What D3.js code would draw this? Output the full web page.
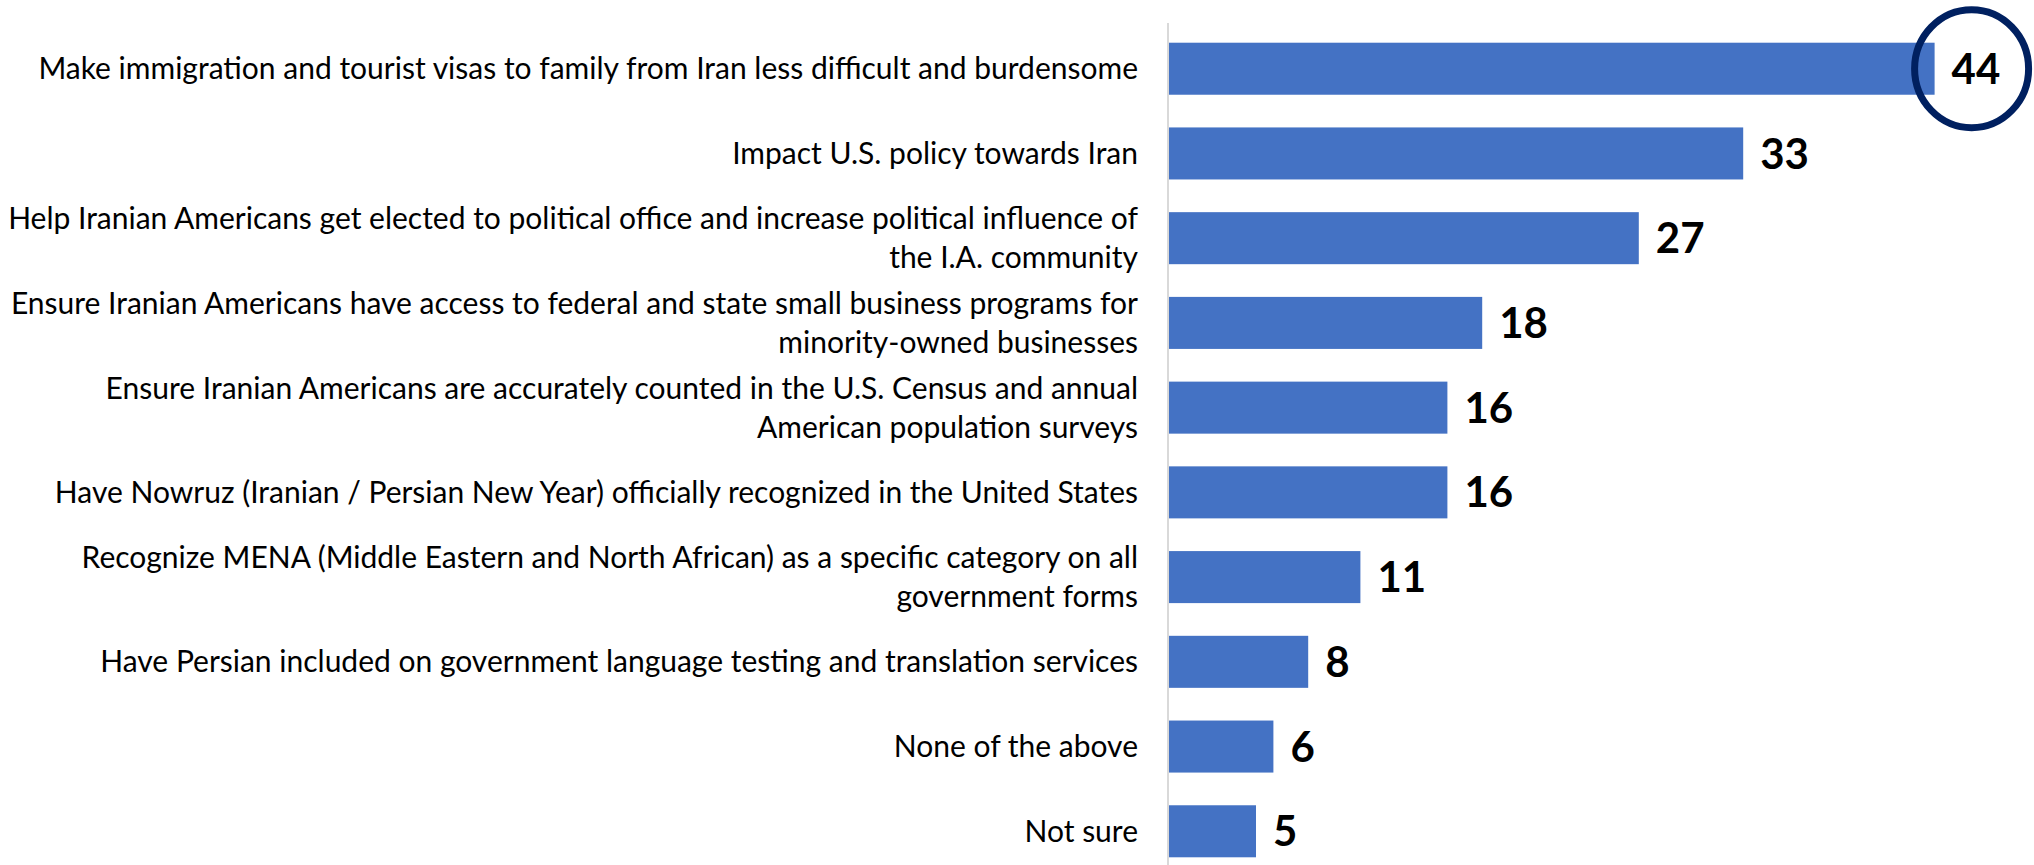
<!DOCTYPE html>
<html>
<head>
<meta charset="utf-8">
<script src="https://cdn.jsdelivr.net/npm/d3@7"></script>
<style>
    body { margin: 0; background: #ffffff; }
    svg { display: block; }
</style>
</head>
<body>
<svg id="chart" width="2034" height="865"></svg>
<script>
// survey items, top to bottom (line breaks as in the original)
var categories = [
    "Make immigration and tourist visas to family from Iran less difficult and burdensome",
    "Impact U.S. policy towards Iran",
    "Help Iranian Americans get elected to political office and increase political influence of\nthe I.A. community",
    "Ensure Iranian Americans have access to federal and state small business programs for\nminority-owned businesses",
    "Ensure Iranian Americans are accurately counted in the U.S. Census and annual\nAmerican population surveys",
    "Have Nowruz (Iranian / Persian New Year) officially recognized in the United States",
    "Recognize MENA (Middle Eastern and North African) as a specific category on all\ngovernment forms",
    "Have Persian included on government language testing and translation services",
    "None of the above",
    "Not sure"
];

var values = [44, 33, 27, 18, 16, 16, 11, 8, 6, 5];

// which bar gets the hand-drawn ring
var highlighted = [0];

var chartSVG = d3.select("#chart"),
    width = +chartSVG.attr("width"),
    height = +chartSVG.attr("height");

var data = categories.map(function(c, i) {
    return { label: c, value: values[i], idx: i };
});

var x = d3.scaleLinear()
    .domain([0, 50])
    .range([1169, 1169 + 870]);

var y = d3.scaleBand()
    .domain(data.map(function(d) { return d.idx; }))
    .range([10, 890])
    .paddingInner(0.386)
    .paddingOuter(0.386);

var barColor = "#4472c4";
var labelFont = "Lato, 'Open Sans', sans-serif";

// bars
chartSVG.append("g")
    .attr("class", "bars")
    .selectAll("rect")
    .data(data)
    .enter().append("rect")
    .attr("x", x(0))
    .attr("y", function(d) { return y(d.idx); })
    .attr("width", function(d) { return x(d.value) - x(0); })
    .attr("height", y.bandwidth())
    .attr("fill", barColor);

// vertical axis line (category axis, no ticks)
chartSVG.append("line")
    .attr("x1", x(0) - 1)
    .attr("x2", x(0) - 1)
    .attr("y1", 23)
    .attr("y2", height)
    .attr("stroke", "#d9d9d9")
    .attr("stroke-width", 2);

// category labels, right aligned next to the axis
var lineGap = 39;
var labels = chartSVG.append("g")
    .attr("class", "labels")
    .selectAll("text")
    .data(data)
    .enter().append("text")
    .attr("text-anchor", "end")
    .attr("font-family", labelFont)
    .attr("font-size", 30)
    .attr("fill", "#000000");

labels.each(function(d) {
    var lines = d.label.split("\n");
    var cy = y(d.idx) + y.bandwidth() / 2;
    var t = d3.select(this);
    lines.forEach(function(line, i) {
        t.append("tspan")
            .attr("x", x(0) - 31)
            .attr("y", cy + (i - (lines.length - 1) / 2) * lineGap)
            .attr("dy", "0.35em")
            .text(line);
    });
});

// value labels
chartSVG.append("g")
    .attr("class", "values")
    .selectAll("text")
    .data(data)
    .enter().append("text")
    .attr("x", function(d) { return x(d.value) + 17; })
    .attr("y", function(d) { return y(d.idx) + y.bandwidth() / 2; })
    .attr("dy", "0.36em")
    .attr("font-family", labelFont)
    .attr("font-weight", 700)
    .attr("font-size", 42)
    .attr("fill", "#000000")
    .text(function(d) { return d.value; });

// ring around the top value
chartSVG.append("g")
    .attr("class", "ring")
    .selectAll("ellipse")
    .data(data.filter(function(d) { return highlighted.indexOf(d.idx) >= 0; }))
    .enter().append("ellipse")
    .attr("cx", function(d) { return x(d.value) + 37; })
    .attr("cy", function(d) { return y(d.idx) + y.bandwidth() / 2; })
    .attr("rx", 57)
    .attr("ry", 59)
    .attr("fill", "none")
    .attr("stroke", "#002060")
    .attr("stroke-width", 7);
</script>
</body>
</html>
